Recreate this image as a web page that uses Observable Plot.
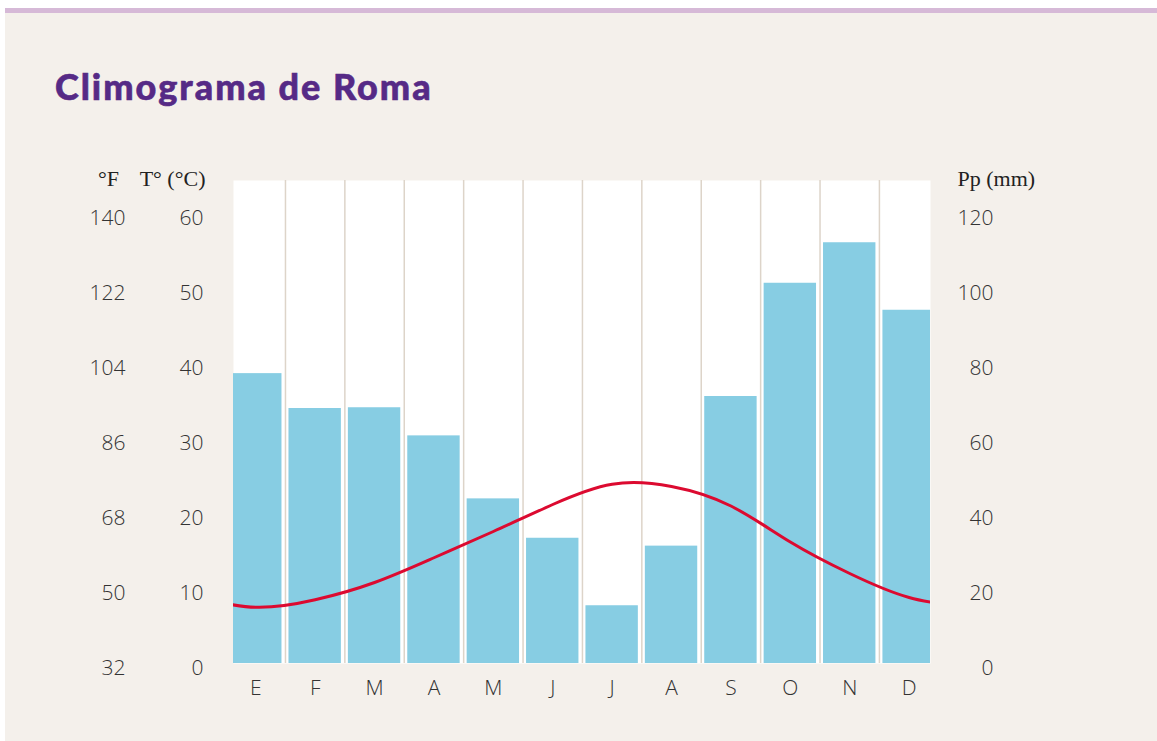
<!DOCTYPE html>
<html><head><meta charset="utf-8">
<script src="https://cdn.jsdelivr.net/npm/d3@7"></script>
<script src="https://cdn.jsdelivr.net/npm/@observablehq/plot@0.6"></script>
<style>
html,body{margin:0;padding:0;background:#fff;width:1157px;height:741px;overflow:hidden;}
#bg{position:absolute;left:5px;top:8px;right:0;bottom:0;background:#f4f0eb;border-top:5px solid #d6b9d7;}
h1{position:absolute;left:55px;top:69px;margin:0;font-family:Lato,sans-serif;font-weight:900;font-size:36px;line-height:35px;letter-spacing:2px;color:#562a86;white-space:nowrap;-webkit-text-stroke:0.6px #562a86;}
#chart{position:absolute;left:0;top:140px;}
</style></head>
<body>
<div id="bg"></div>
<h1>Climograma de Roma</h1>
<div id="chart"></div>
<script>
const months = ["E","F","M","A","M","J","J","A","S","O","N","D"];
const precip = [77.3, 68, 68.2, 60.7, 43.9, 33.4, 15.4, 31.3, 71.2, 101.4, 112.2, 94.2]; // mm
const temp = [7.5, 8.5, 10.8, 14.1, 17.6, 21.2, 23.9, 23.6, 21.0, 16.2, 12.0, 8.8]; // °C
const tempTicksC = [0, 10, 20, 30, 40, 50, 60];
const tempTicksF = [32, 50, 68, 86, 104, 122, 140];
const precipTicks = [0, 20, 40, 60, 80, 100, 120];

const ratio = precipTicks[precipTicks.length-1] / tempTicksC[tempTicksC.length-1];
const rows = months.map((m, i) => ({i, m, pp: precip[i], t: temp[i]}));
// the year wraps around: December before January, January after December
const lineData = [{i: -1, t: temp[11]}, ...rows, {i: 12, t: temp[0]}];
const bounds = d3.range(1, 12).map(i => i - 0.5);

const tickFont = {fontFamily: "'Open Sans', sans-serif", fontSize: 21, fontWeight: 300, fill: "#333"};
const titleFont = {fontFamily: "'Liberation Serif', serif", fontSize: 22, fill: "#222"};

const chart = Plot.plot({
  width: 1157, height: 580,
  marginTop: 40, marginBottom: 57, marginLeft: 233, marginRight: 227,
  style: {background: "transparent", color: "#333"},
  x: {domain: [-0.375, 11.36], label: null},
  y: {domain: [0, 64.4], label: null},
  marks: [
    Plot.frame({fill: "white", stroke: null}),
    Plot.ruleX(bounds, {stroke: "#ddd4c9", strokeWidth: 1.5}),
    Plot.rectY(rows, {x1: d => d.i - 0.5, x2: d => d.i + 0.5, y1: 0, y2: d => d.pp / ratio,
      fill: "#87cde3", insetLeft: 3.5, insetRight: 3.5, clip: true}),
    Plot.line(lineData, {x: "i", y: "t", curve: "natural", stroke: "#dc0a30", strokeWidth: 3, clip: true}),
    Plot.axisX(d3.range(12), {tickSize: 0, tickPadding: 17, tickFormat: i => months[i], label: null, ...tickFont}),
    Plot.axisY(tempTicksC, {anchor: "left", tickSize: 0, tickPadding: 30, dy: 5, label: null, ...tickFont}),
    Plot.axisY(tempTicksC, {anchor: "left", tickSize: 0, tickPadding: 108, dy: 5, label: null,
      tickFormat: d => tempTicksF[tempTicksC.indexOf(d)], ...tickFont}),
    Plot.axisY(tempTicksC, {anchor: "right", tickSize: 0, tickPadding: 63, dy: 5, textAnchor: "end", label: null,
      tickFormat: d => precipTicks[tempTicksC.indexOf(d)], ...tickFont}),
    Plot.text(["°F"], {text: d => d, frameAnchor: "top-left", dx: -125, dy: -2, textAnchor: "middle", lineAnchor: "middle", ...titleFont}),
    Plot.text(["T° (°C)"], {text: d => d, frameAnchor: "top-left", dx: -28, dy: -2, textAnchor: "end", lineAnchor: "middle", ...titleFont}),
    Plot.text(["Pp (mm)"], {text: d => d, frameAnchor: "top-right", dx: 27, dy: -2, textAnchor: "start", lineAnchor: "middle", ...titleFont})
  ]
});
document.getElementById("chart").appendChild(chart);
</script>
</body></html>
